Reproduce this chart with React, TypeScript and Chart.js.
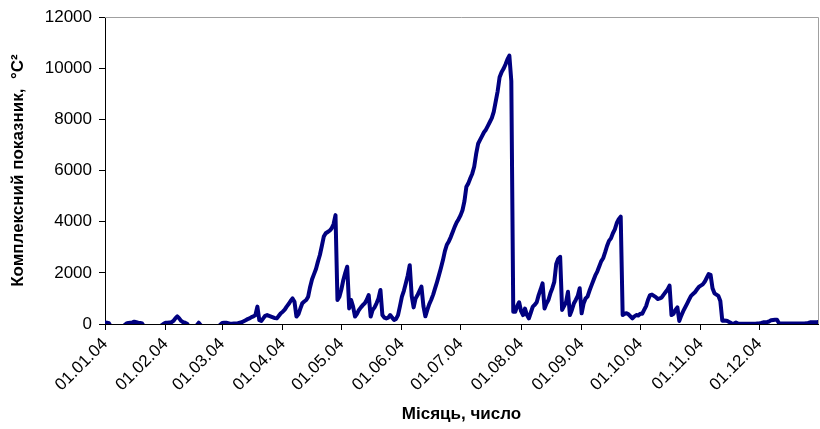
import { useEffect, useRef } from "react";
import { Chart, registerables } from "chart.js";

Chart.register(...registerables);

// Day-of-year (0 = 1 Jan 2004) at which each month starts, and its tick label
const monthStartDays = [0, 31, 60, 91, 121, 152, 182, 213, 244, 274, 305, 335];
const monthTickLabels = [
  "01.01.04", "01.02.04", "01.03.04", "01.04.04", "01.05.04", "01.06.04",
  "01.07.04", "01.08.04", "01.09.04", "01.10.04", "01.11.04", "01.12.04",
];

// Daily values of the complex index, °C², month by month
const jan = [60, 50, 30, -100, -100, -100, -100, -100, -100, -100, -50, 20, 40, 50, 60, 90, 70, 50, 40, 20, -100, -100, -100, -100, -100, -100, -100, -100, -100, -50, 10];
const feb = [50, 50, 60, 70, 120, 220, 300, 220, 120, 70, 50, 10, -100, -100, -100, -100, -50, 50, -50, -100, -100, -100, -100, -100, -100, -100, -100, -100, -30];
const mar = [40, 50, 50, 30, 10, 10, 20, 20, 30, 50, 70, 110, 150, 190, 220, 270, 300, 350, 680, 150, 120, 220, 320, 350, 320, 290, 260, 230, 220, 320, 420];
const apr = [480, 560, 680, 780, 900, 1000, 870, 290, 380, 600, 810, 880, 940, 1070, 1450, 1750, 1950, 2150, 2440, 2700, 3050, 3420, 3550, 3600, 3650, 3740, 3900, 4260, 940, 1070];
const may = [1350, 1720, 2000, 2240, 610, 940, 680, 290, 400, 550, 650, 740, 810, 950, 1130, 290, 550, 650, 810, 1000, 1330, 350, 250, 220, 250, 350, 250, 160, 200, 350, 700];
const jun = [1070, 1300, 1590, 1900, 2300, 1100, 650, 1000, 1130, 1300, 1460, 700, 300, 550, 780, 950, 1150, 1400, 1650, 1920, 2200, 2500, 2850, 3100, 3230, 3400, 3600, 3800, 3970, 4100];
const jul = [4250, 4450, 4800, 5370, 5500, 5700, 5880, 6150, 6650, 7050, 7200, 7350, 7500, 7600, 7750, 7900, 8050, 8300, 8700, 9100, 9650, 9850, 9980, 10150, 10350, 10500, 9500, 480, 480, 700, 850];
const aug = [500, 350, 600, 350, 220, 450, 680, 750, 850, 1130, 1350, 1590, 610, 800, 940, 1200, 1400, 1650, 2350, 2550, 2630, 550, 700, 850, 1260, 350, 550, 800, 940, 1100, 1400];
const sep = [420, 800, 1000, 1070, 1300, 1500, 1700, 1900, 2050, 2250, 2450, 2570, 2800, 3050, 3250, 3350, 3550, 3700, 3950, 4100, 4200, 350, 400, 420, 380, 300, 220, 300, 350, 330];
const oct = [400, 400, 550, 700, 950, 1130, 1150, 1100, 1050, 980, 1000, 1040, 1150, 1250, 1350, 1500, 350, 400, 550, 650, 120, 330, 500, 650, 800, 950, 1100, 1170, 1240, 1350, 1450];
const nov = [1500, 1550, 1650, 1800, 1950, 1920, 1400, 1200, 1150, 1100, 900, 130, 140, 130, 100, 60, 10, 20, 60, 20, 10, 10, 10, 10, 10, 10, 10, 10, 10, 20];
const dec = [20, 40, 65, 70, 80, 100, 150, 160, 170, 170, 30, 20, 20, 20, 20, 20, 20, 20, 20, 20, 20, 20, 20, 20, 25, 40, 65, 70, 70, 65, 80];

const dailyIndex = [...jan, ...feb, ...mar, ...apr, ...may, ...jun, ...jul, ...aug, ...sep, ...oct, ...nov, ...dec];

const yTitle = "Комплексний показник,  °C²";
const xTitle = "Місяць, число";

const FONT = "'Liberation Sans', Arial, sans-serif";

// light frame on the top and right sides of the plot area
const plotFrame = {
  id: "plotFrame",
  beforeDatasetsDraw(chart: any) {
    const { ctx, chartArea } = chart;
    const { top, right, bottom, left } = chartArea;
    ctx.save();
    ctx.strokeStyle = "#a0a0a0";
    ctx.lineWidth = 1;
    ctx.beginPath();
    ctx.moveTo(left, Math.round(top) + 0.5);
    ctx.lineTo(Math.round(right) + 0.5, Math.round(top) + 0.5);
    ctx.lineTo(Math.round(right) + 0.5, bottom);
    ctx.stroke();
    ctx.restore();
  },
};

export default function App() {
  const canvasRef = useRef<HTMLCanvasElement | null>(null);

  useEffect(() => {
    const canvas = canvasRef.current;
    if (!canvas) return;
    const chart = new Chart(canvas, {
      type: "line",
      data: {
        datasets: [
          {
            data: dailyIndex.map((v, i) => ({ x: i, y: v })),
            borderColor: "#000080",
            borderWidth: 4,
            pointRadius: 0,
            tension: 0,
            fill: false,
            borderJoinStyle: "round",
            borderCapStyle: "round",
            clip: 0,
          },
        ],
      },
      options: {
        animation: false,
        responsive: false,
        devicePixelRatio: 1,
        layout: { padding: { top: 17, right: 2, left: 0, bottom: 0 } },
        plugins: {
          legend: { display: false },
          tooltip: { enabled: false },
        },
        scales: {
          x: {
            type: "linear",
            min: 0,
            max: 365,
            afterBuildTicks: (scale: any) => {
              scale.ticks = monthStartDays.map((v) => ({ value: v }));
            },
            afterFit: (scale: any) => {
              scale.height = 105;
            },
            grid: { drawOnChartArea: false, drawTicks: true, tickLength: 6, color: "#000" },
            border: { display: true, color: "#000", width: 1 },
            ticks: {
              autoSkip: false,
              minRotation: 45,
              maxRotation: 45,
              padding: 4,
              color: "#000",
              font: { family: FONT, size: 17 },
              callback: (value: any) => {
                const i = monthStartDays.indexOf(Number(value));
                return i >= 0 ? monthTickLabels[i] : "";
              },
            },
            title: {
              display: true,
              text: xTitle,
              color: "#000",
              font: { family: FONT, size: 17, weight: "bold" },
              padding: { top: 0, bottom: 4 },
            },
          },
          y: {
            min: 0,
            max: 12000,
            afterFit: (scale: any) => {
              scale.width = 105;
            },
            grid: { drawOnChartArea: false, drawTicks: true, tickLength: 6, color: "#000" },
            border: { display: true, color: "#000", width: 1 },
            ticks: {
              stepSize: 2000,
              padding: 7,
              color: "#000",
              font: { family: FONT, size: 17 },
              callback: (value: any) => String(value),
            },
            title: {
              display: true,
              text: yTitle,
              color: "#000",
              font: { family: FONT, size: 17, weight: "bold" },
              padding: { top: 8, bottom: 0 },
            },
          },
        },
      },
      plugins: [plotFrame],
    });
    return () => chart.destroy();
  }, []);

  return (
    <div style={{ position: "fixed", left: 0, top: 0, width: 820, height: 429, background: "#fff" }}>
      <canvas ref={canvasRef} width={820} height={429} style={{ display: "block" }} />
    </div>
  );
}
